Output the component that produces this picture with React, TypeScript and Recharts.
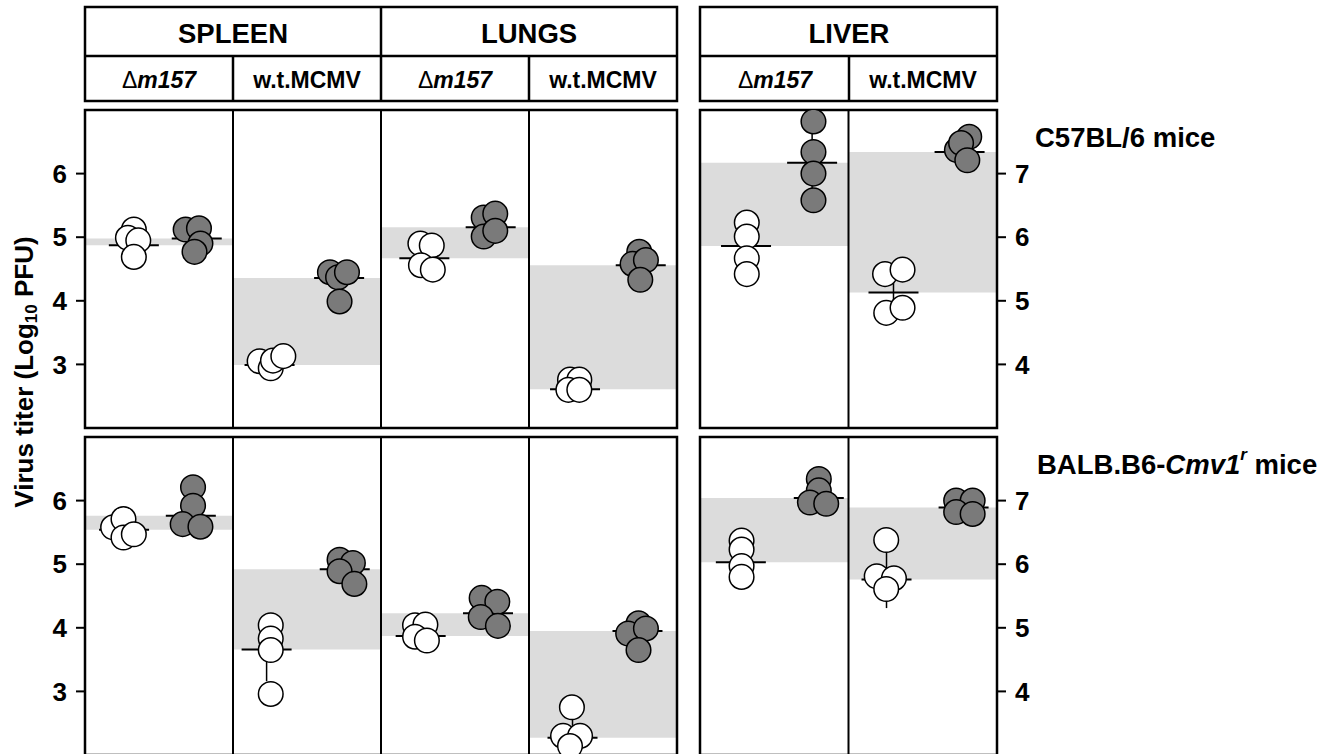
import React from 'react';
import { ScatterChart, Scatter, XAxis, YAxis, ReferenceArea, ReferenceLine, ErrorBar } from 'recharts';

const FONT = '"Liberation Sans", Arial, sans-serif';

const organs = ['SPLEEN', 'LUNGS', 'LIVER'];
const viruses = ['m157', 'w.t.MCMV'];
const ticksSL = [3, 4, 5, 6];
const ticksLiver = [4, 5, 6, 7];

// x = column index + place inside column
// columns (spleen/lungs panels): 0 spleen Δm157, 1 spleen w.t., 2 lungs Δm157, 3 lungs w.t.
// columns (liver panels): 0 Δm157, 1 w.t.

// C57BL/6 mice
const c57SLOpen = [
  { x: 0.33, y: 5.12 }, { x: 0.29, y: 4.99 }, { x: 0.36, y: 4.95 }, { x: 0.33, y: 4.69 },
  { x: 1.18, y: 3.05 }, { x: 1.255, y: 2.94 }, { x: 1.27, y: 3.06 }, { x: 1.34, y: 3.13 },
  { x: 2.266, y: 4.9 }, { x: 2.343, y: 4.87 }, { x: 2.27, y: 4.56 }, { x: 2.35, y: 4.49 },
  { x: 3.277, y: 2.76 }, { x: 3.34, y: 2.76 }, { x: 3.266, y: 2.6 }, { x: 3.34, y: 2.6 },
];
const c57SLFilled = [
  { x: 0.68, y: 5.12 }, { x: 0.77, y: 5.14 }, { x: 0.78, y: 4.9 }, { x: 0.74, y: 4.77 },
  { x: 1.655, y: 4.45 }, { x: 1.71, y: 4.37 }, { x: 1.77, y: 4.45 }, { x: 1.72, y: 3.99 },
  { x: 2.694, y: 5.31 }, { x: 2.772, y: 5.37 }, { x: 2.694, y: 5.01 }, { x: 2.772, y: 5.1 },
  { x: 3.745, y: 4.77 }, { x: 3.7, y: 4.58 }, { x: 3.79, y: 4.64 }, { x: 3.752, y: 4.33 },
];
const c57SLOpenMean = [
  { x: 0.33, y: 4.875, sd: 0.18 }, { x: 1.247, y: 2.99, sd: 0.08 },
  { x: 2.293, y: 4.67, sd: 0.2 }, { x: 3.311, y: 2.61, sd: 0.09 },
];
const c57SLFilledMean = [
  { x: 0.755, y: 4.98, sd: 0.17 }, { x: 1.717, y: 4.36, sd: 0.22 },
  { x: 2.741, y: 5.155, sd: 0.17 }, { x: 3.755, y: 4.56, sd: 0.18 },
];
const c57LiverOpen = [
  { x: 0.315, y: 6.23 }, { x: 0.315, y: 6.01 }, { x: 0.315, y: 5.67 }, { x: 0.315, y: 5.42 },
  { x: 1.246, y: 5.42 }, { x: 1.364, y: 5.49 }, { x: 1.254, y: 4.81 }, { x: 1.364, y: 4.89 },
];
const c57LiverFilled = [
  { x: 0.764, y: 7.82 }, { x: 0.764, y: 7.34 }, { x: 0.764, y: 7.0 }, { x: 0.764, y: 6.58 },
  { x: 1.73, y: 7.37 }, { x: 1.813, y: 7.58 }, { x: 1.758, y: 7.48 }, { x: 1.8, y: 7.21 },
];
const c57LiverOpenMean = [{ x: 0.31, y: 5.86, sd: 0.35 }, { x: 1.303, y: 5.13, sd: 0.33 }];
const c57LiverFilledMean = [{ x: 0.755, y: 7.17, sd: 0.5 }, { x: 1.748, y: 7.34, sd: 0.15 }];

// BALB.B6-Cmv1r mice
const balbSLOpen = [
  { x: 0.19, y: 5.58 }, { x: 0.26, y: 5.71 }, { x: 0.26, y: 5.42 }, { x: 0.33, y: 5.47 },
  { x: 1.255, y: 4.04 }, { x: 1.255, y: 3.83 }, { x: 1.255, y: 3.65 }, { x: 1.255, y: 2.96 },
  { x: 2.23, y: 4.04 }, { x: 2.3, y: 4.05 }, { x: 2.23, y: 3.86 }, { x: 2.31, y: 3.8 },
  { x: 3.29, y: 2.75 }, { x: 3.23, y: 2.3 }, { x: 3.345, y: 2.3 }, { x: 3.277, y: 2.14 },
];
const balbSLFilled = [
  { x: 0.73, y: 6.21 }, { x: 0.73, y: 5.92 }, { x: 0.66, y: 5.63 }, { x: 0.78, y: 5.59 },
  { x: 1.72, y: 5.07 }, { x: 1.81, y: 5.02 }, { x: 1.72, y: 4.89 }, { x: 1.82, y: 4.69 },
  { x: 2.68, y: 4.47 }, { x: 2.786, y: 4.41 }, { x: 2.674, y: 4.17 }, { x: 2.79, y: 4.03 },
  { x: 3.74, y: 4.07 }, { x: 3.67, y: 3.91 }, { x: 3.79, y: 3.99 }, { x: 3.74, y: 3.65 },
];
const balbSLOpenMean = [
  { x: 0.264, y: 5.54, sd: 0.12 }, { x: 1.227, y: 3.66, sd: 0.5 },
  { x: 2.268, y: 3.87, sd: 0.12 }, { x: 3.294, y: 2.27, sd: 0.3 },
];
const balbSLFilledMean = [
  { x: 0.715, y: 5.76, sd: 0.28 }, { x: 1.755, y: 4.92, sd: 0.17 },
  { x: 2.723, y: 4.23, sd: 0.2 }, { x: 3.733, y: 3.95, sd: 0.18 },
];
const balbLiverOpen = [
  { x: 0.28, y: 6.37 }, { x: 0.28, y: 6.23 }, { x: 0.28, y: 5.97 }, { x: 0.28, y: 5.8 },
  { x: 1.254, y: 6.38 }, { x: 1.19, y: 5.81 }, { x: 1.306, y: 5.78 }, { x: 1.254, y: 5.61 },
];
const balbLiverFilled = [
  { x: 0.8, y: 7.34 }, { x: 0.8, y: 7.16 }, { x: 0.74, y: 6.97 }, { x: 0.85, y: 6.95 },
  { x: 1.725, y: 7.0 }, { x: 1.836, y: 7.0 }, { x: 1.725, y: 6.82 }, { x: 1.836, y: 6.79 },
];
const balbLiverOpenMean = [{ x: 0.275, y: 6.03, sd: 0.25 }, { x: 1.256, y: 5.76, sd: 0.45 }];
const balbLiverFilledMean = [{ x: 0.8, y: 7.04, sd: 0.18 }, { x: 1.775, y: 6.89, sd: 0.1 }];

type Pt = { x: number; y: number };
type MeanPt = { x: number; y: number; sd: number };

const OpenDot = (p: any) => <circle cx={p.cx} cy={p.cy} r={12.3} fill="#fff" stroke="#000" strokeWidth={1.5} />;
const FilledDot = (p: any) => <circle cx={p.cx} cy={p.cy} r={12.3} fill="#7a7a7a" stroke="#000" strokeWidth={1.5} />;
const MeanTick = (p: any) => <line x1={p.cx - 25} x2={p.cx + 25} y1={p.cy} y2={p.cy} stroke="#000" strokeWidth={2} />;

interface PanelProps {
  plotLeft: number;
  plotTop: number;
  plotW: number;
  cols: number;
  domain: [number, number];
  ticks: number[];
  side: 'left' | 'right';
  open: Pt[];
  filled: Pt[];
  openMean: MeanPt[];
  filledMean: MeanPt[];
}

function Panel({ plotLeft, plotTop, plotW, cols, domain, ticks, side, open, filled, openMean, filledMean }: PanelProps) {
  const plotH = 318;
  const m = 5;
  const axisW = side === 'left' ? 85 : 60;
  const width = plotW + axisW + m;
  const height = plotH + 2 * m;
  const margin = side === 'left' ? { top: m, right: m, bottom: m, left: 0 } : { top: m, right: 0, bottom: m, left: m };
  const chartLeft = side === 'left' ? plotLeft - axisW : plotLeft - m;
  const dividers = Array.from({ length: cols - 1 }, (_, i) => i + 1);
  return (
    <div style={{ position: 'absolute', left: chartLeft, top: plotTop - m }}>
      <ScatterChart width={width} height={height} margin={margin}>
        <XAxis type="number" dataKey="x" domain={[0, cols]} hide allowDataOverflow />
        <YAxis
          type="number"
          dataKey="y"
          domain={domain}
          ticks={ticks}
          interval={0}
          orientation={side}
          width={axisW}
          axisLine={false}
          tickLine={{ stroke: '#000', strokeWidth: 2 }}
          tickSize={9}
          tickMargin={9}
          tick={{ fill: '#000', fontSize: 26, fontWeight: 700, fontFamily: FONT }}
          allowDataOverflow
        />
        {openMean.map((o, i) => (
          <ReferenceArea key={'b' + i} x1={i} x2={i + 1} y1={o.y} y2={filledMean[i].y} fill="#dcdcdc" fillOpacity={1} stroke="none" />
        ))}
        {dividers.map((d) => (
          <ReferenceLine key={'d' + d} x={d} stroke="#000" strokeWidth={2} />
        ))}
        <ReferenceArea x1={0} x2={cols} y1={domain[0]} y2={domain[1]} fill="none" stroke="#000" strokeWidth={2.5} />
        <Scatter data={[...openMean, ...filledMean]} shape={MeanTick} isAnimationActive={false}>
          <ErrorBar dataKey="sd" direction="y" width={0} stroke="#000" strokeWidth={1.5} />
        </Scatter>
        <Scatter data={open} shape={OpenDot} isAnimationActive={false} />
        <Scatter data={filled} shape={FilledDot} isAnimationActive={false} />
      </ScatterChart>
    </div>
  );
}

function Header() {
  const t = { fontFamily: FONT, fontWeight: 700, fill: '#000' } as const;
  const row2 = [159, 307, 455, 603, 775, 923];
  const DeltaLabel = ({ x }: { x: number }) => (
    <text x={x} y={80} textAnchor="middle" dominantBaseline="central" fontSize={23} {...t}>
      <tspan fontWeight={400}>Δ</tspan>
      <tspan fontStyle="italic">{viruses[0]}</tspan>
    </text>
  );
  return (
    <svg width={1333} height={110} style={{ position: 'absolute', left: 0, top: 0 }}>
      <g stroke="#000" strokeWidth={2.5} fill="none">
        <rect x={85} y={7} width={592} height={94} />
        <line x1={85} x2={677} y1={56} y2={56} />
        <line x1={381} x2={381} y1={7} y2={101} />
        <line x1={233} x2={233} y1={56} y2={101} />
        <line x1={529} x2={529} y1={56} y2={101} />
        <rect x={700} y={7} width={297} height={94} />
        <line x1={700} x2={997} y1={56} y2={56} />
        <line x1={849} x2={849} y1={56} y2={101} />
      </g>
      <text x={233} y={33} textAnchor="middle" dominantBaseline="central" fontSize={27.5} {...t}>{organs[0]}</text>
      <text x={529} y={33} textAnchor="middle" dominantBaseline="central" fontSize={27.5} {...t}>{organs[1]}</text>
      <text x={849} y={33} textAnchor="middle" dominantBaseline="central" fontSize={27.5} {...t}>{organs[2]}</text>
      {row2.map((x, i) =>
        i % 2 === 0 ? (
          <DeltaLabel key={i} x={x} />
        ) : (
          <text key={i} x={x} y={80} textAnchor="middle" dominantBaseline="central" fontSize={23} {...t}>{viruses[1]}</text>
        )
      )}
    </svg>
  );
}

function SideLabels() {
  const t = { fontFamily: FONT, fontWeight: 700, fill: '#000' } as const;
  return (
    <svg width={1333} height={754} style={{ position: 'absolute', left: 0, top: 0, pointerEvents: 'none' }}>
      <text x={1035} y={137} dominantBaseline="central" fontSize={27.5} {...t}>C57BL/6 mice</text>
      <text x={1037} y={464} dominantBaseline="central" fontSize={27.5} {...t}>
        BALB.B6-<tspan fontStyle="italic">Cmv1</tspan>
        <tspan fontStyle="italic" fontSize={17} dy={-10}>r</tspan>
        <tspan dy={10}> mice</tspan>
      </text>
      <text transform="translate(24,372) rotate(-90)" textAnchor="middle" dominantBaseline="central" fontSize={26} {...t}>
        Virus titer (Log<tspan fontSize={17} dy={7}>10</tspan>
        <tspan dy={-7}> PFU)</tspan>
      </text>
    </svg>
  );
}

export default function App() {
  return (
    <div style={{ position: 'absolute', left: 0, top: 0, width: 1333, height: 754, overflow: 'hidden', background: '#fff' }}>
      <Header />
      <Panel plotLeft={85} plotTop={110} plotW={592} cols={4} domain={[2, 7]} ticks={ticksSL} side="left"
        open={c57SLOpen} filled={c57SLFilled} openMean={c57SLOpenMean} filledMean={c57SLFilledMean} />
      <Panel plotLeft={700} plotTop={110} plotW={297} cols={2} domain={[3, 8]} ticks={ticksLiver} side="right"
        open={c57LiverOpen} filled={c57LiverFilled} openMean={c57LiverOpenMean} filledMean={c57LiverFilledMean} />
      <Panel plotLeft={85} plotTop={437} plotW={592} cols={4} domain={[2, 7]} ticks={ticksSL} side="left"
        open={balbSLOpen} filled={balbSLFilled} openMean={balbSLOpenMean} filledMean={balbSLFilledMean} />
      <Panel plotLeft={700} plotTop={437} plotW={297} cols={2} domain={[3, 8]} ticks={ticksLiver} side="right"
        open={balbLiverOpen} filled={balbLiverFilled} openMean={balbLiverOpenMean} filledMean={balbLiverFilledMean} />
      <SideLabels />
    </div>
  );
}
